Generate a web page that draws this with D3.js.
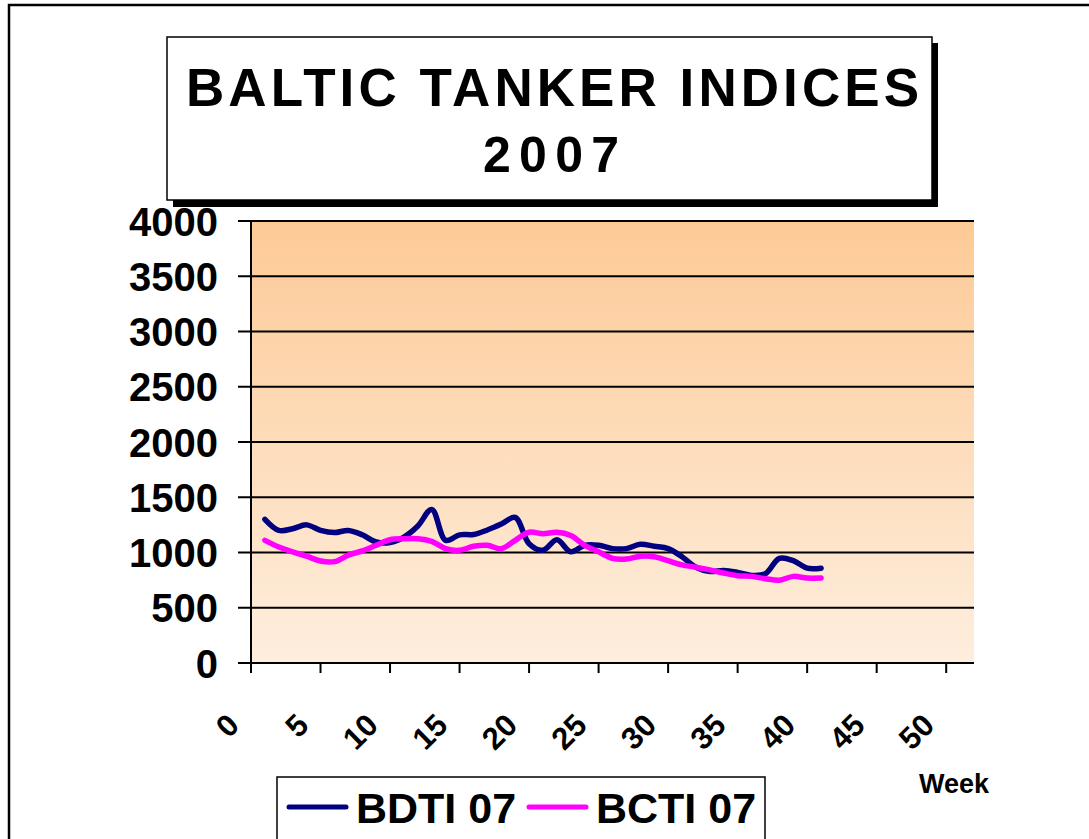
<!DOCTYPE html>
<html>
<head>
<meta charset="utf-8">
<script src="https://cdn.jsdelivr.net/npm/d3@7"></script>
<style>
    body { margin: 0; background: #fff; }
    svg { display: block; }
</style>
</head>
<body>
<script>
(function () {

    /**
     * Data
     */
    var weeks = [1, 2, 3, 4, 5, 6, 7, 8, 9, 10, 11, 12, 13, 14, 15, 16, 17, 18, 19, 20,
        21, 22, 23, 24, 25, 26, 27, 28, 29, 30, 31, 32, 33, 34, 35, 36, 37, 38, 39, 40, 41];
    var bdti = [1300, 1200, 1215, 1250, 1200, 1180, 1200, 1160, 1095, 1090,
        1140, 1240, 1390, 1110, 1160, 1163, 1204, 1257, 1317, 1080,
        1020, 1115, 1006, 1065, 1065, 1035, 1035, 1075, 1056, 1035,
        962, 867, 828, 837, 820, 793, 808, 947, 926, 858, 858];
    var bcti = [1110, 1050, 1006, 967, 923, 917, 976, 1015, 1065, 1115,
        1124, 1124, 1100, 1035, 1020, 1056, 1065, 1035, 1110, 1183,
        1169, 1183, 1154, 1065, 1006, 947, 941, 967, 962, 926,
        888, 867, 843, 814, 790, 784, 763, 749, 784, 769, 769];
    var yTicks = [0, 500, 1000, 1500, 2000, 2500, 3000, 3500, 4000];
    var xTicks = [0, 5, 10, 15, 20, 25, 30, 35, 40, 45, 50];
    var seriesNames = ["BDTI 07", "BCTI 07"];
    var seriesColors = ["#000080", "#FF00FF"];

    var W = 1089;
    var H = 839;
    var fontFamily = "'Liberation Sans', Arial, sans-serif";
    var plot = { left: 251, right: 974, top: 221, bottom: 663 };

    var svg = d3.select("body").append("svg")
        .attr("width", W)
        .attr("height", H);

    // outer frame (cut off on the right and bottom)
    svg.append("rect")
        .attr("x", 9).attr("y", 5)
        .attr("width", W + 20).attr("height", H + 20)
        .attr("fill", "#fff")
        .attr("stroke", "#000")
        .attr("stroke-width", 2.5);

    /**
     * Scales
     */
    var x = d3.scaleLinear().domain([0, 52]).range([plot.left, plot.right]);
    var y = d3.scaleLinear().domain([0, 4000]).range([plot.bottom, plot.top]);

    // plot background gradient
    var grad = svg.append("defs").append("linearGradient")
        .attr("id", "bg").attr("x1", 0).attr("y1", 0).attr("x2", 0).attr("y2", 1);
    grad.append("stop").attr("offset", "0%").attr("stop-color", "#FDCA96");
    grad.append("stop").attr("offset", "100%").attr("stop-color", "#FEEEDE");

    svg.append("rect")
        .attr("x", plot.left).attr("y", plot.top)
        .attr("width", plot.right - plot.left)
        .attr("height", plot.bottom - plot.top)
        .attr("fill", "url(#bg)");

    /**
     * Gridlines + y axis ticks and labels
     */
    svg.append("g").selectAll("line")
        .data(yTicks)
        .enter().append("line")
        .attr("x1", plot.left - 13)
        .attr("x2", plot.right)
        .attr("y1", function (d) { return y(d); })
        .attr("y2", function (d) { return y(d); })
        .attr("stroke", "#000")
        .attr("stroke-width", 2);

    svg.append("g").selectAll("text")
        .data(yTicks)
        .enter().append("text")
        .attr("x", 218)
        .attr("y", function (d) { return y(d) + 14.5; })
        .attr("text-anchor", "end")
        .attr("font-family", fontFamily)
        .attr("font-weight", "bold")
        .attr("font-size", "40px")
        .text(function (d) { return d; });

    // y axis line
    svg.append("line")
        .attr("x1", plot.left).attr("x2", plot.left)
        .attr("y1", plot.top).attr("y2", plot.bottom)
        .attr("stroke", "#000").attr("stroke-width", 2);

    /**
     * x axis
     */
    svg.append("g").selectAll("line")
        .data(xTicks)
        .enter().append("line")
        .attr("x1", function (d) { return x(d); })
        .attr("x2", function (d) { return x(d); })
        .attr("y1", plot.bottom)
        .attr("y2", plot.bottom + 10)
        .attr("stroke", "#000")
        .attr("stroke-width", 2);

    svg.append("g").selectAll("text")
        .data(xTicks)
        .enter().append("text")
        .attr("transform", function (d) {
            return "translate(" + (x(d) - 10) + "," + 727 + ") rotate(-45)";
        })
        .attr("text-anchor", "end")
        .attr("font-family", fontFamily)
        .attr("font-weight", "bold")
        .attr("font-size", "31px")
        .text(function (d) { return d; });

    svg.append("text")
        .attr("x", 919).attr("y", 793)
        .attr("font-family", fontFamily)
        .attr("font-weight", "bold")
        .attr("font-size", "27px")
        .text("Week");

    /**
     * Series lines
     */
    var line = d3.line()
        .x(function (d) { return x(d[0]); })
        .y(function (d) { return y(d[1]); })
        .curve(d3.curveCatmullRom.alpha(0.5));

    [bdti, bcti].forEach(function (values, i) {
        svg.append("path")
            .datum(weeks.map(function (w, j) { return [w, values[j]]; }))
            .attr("d", line)
            .attr("fill", "none")
            .attr("stroke", seriesColors[i])
            .attr("stroke-width", 5.5)
            .attr("stroke-linejoin", "round")
            .attr("stroke-linecap", "round");
    });

    /**
     * Title box with shadow
     */
    svg.append("rect")
        .attr("x", 173).attr("y", 43)
        .attr("width", 765).attr("height", 164)
        .attr("fill", "#000");
    svg.append("rect")
        .attr("x", 167).attr("y", 37)
        .attr("width", 765).attr("height", 163)
        .attr("fill", "#fff")
        .attr("stroke", "#000")
        .attr("stroke-width", 1.5);

    svg.append("text")
        .attr("x", 186).attr("y", 106)
        .attr("textLength", 733)
        .attr("lengthAdjust", "spacing")
        .attr("font-family", fontFamily)
        .attr("font-weight", "bold")
        .attr("font-size", "53px")
        .text("BALTIC TANKER INDICES");

    svg.append("text")
        .attr("x", 483).attr("y", 172)
        .attr("textLength", 136)
        .attr("lengthAdjust", "spacing")
        .attr("font-family", fontFamily)
        .attr("font-weight", "bold")
        .attr("font-size", "50px")
        .text("2007");

    /**
     * Legend
     */
    var legend = svg.append("g");
    legend.append("rect")
        .attr("x", 277).attr("y", 777)
        .attr("width", 488).attr("height", 80)
        .attr("fill", "#fff")
        .attr("stroke", "#000")
        .attr("stroke-width", 1.5);

    var legendX = [289, 529];
    seriesNames.forEach(function (name, i) {
        legend.append("line")
            .attr("x1", legendX[i]).attr("x2", legendX[i] + 57)
            .attr("y1", 807).attr("y2", 807)
            .attr("stroke", seriesColors[i])
            .attr("stroke-width", 5)
            .attr("stroke-linecap", "round");
        legend.append("text")
            .attr("x", legendX[i] + 67).attr("y", 823)
            .attr("font-family", fontFamily)
            .attr("font-weight", "bold")
            .attr("font-size", "43px")
            .text(name);
    });

})();
</script>
</body>
</html>
